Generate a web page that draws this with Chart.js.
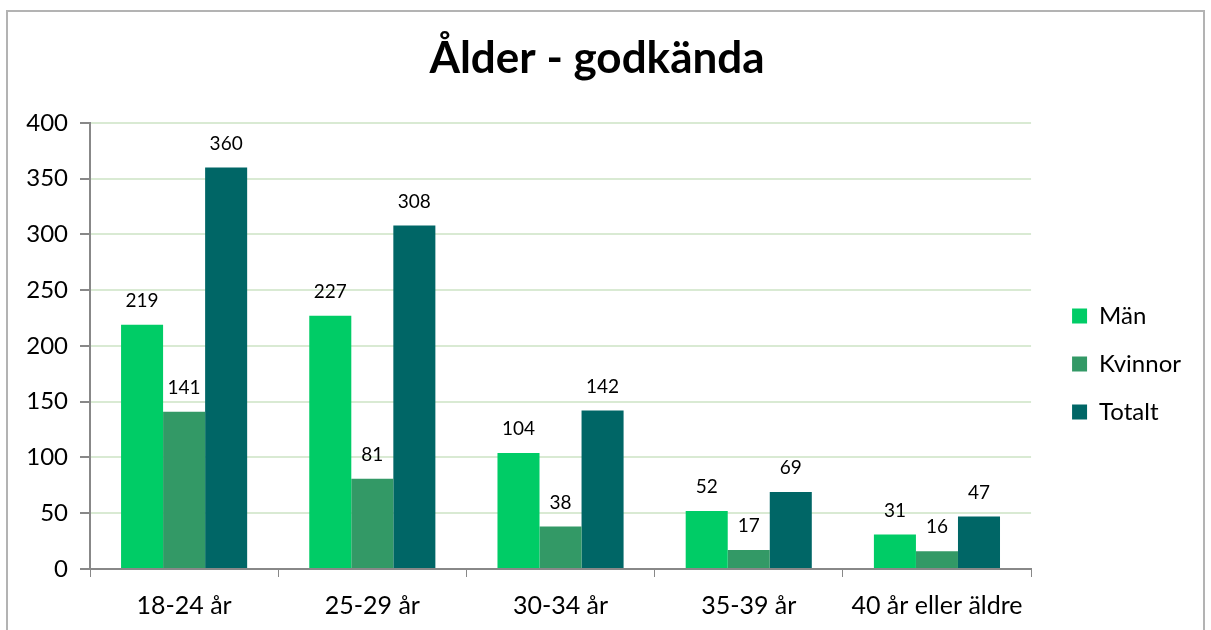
<!DOCTYPE html>
<html>
<head>
<meta charset="utf-8">
<script src="https://cdn.jsdelivr.net/npm/chart.js@4/dist/chart.umd.min.js"></script>
<style>
  html, body { margin: 0; padding: 0; background: #fff; }
  #wrap { width: 1211px; height: 630px; position: relative; }
</style>
</head>
<body>
<div id="wrap"><canvas id="myChart" width="1211" height="630"></canvas></div>
<script>
const categories = ["18-24 år", "25-29 år", "30-34 år", "35-39 år", "40 år eller äldre"];
const man = [219, 227, 104, 52, 31];
const kvinnor = [141, 81, 38, 17, 16];
const totalt = [360, 308, 142, 69, 47];

const FONT = "Lato, 'Noto Sans', sans-serif";

// ram runt diagrammet
const framePlugin = {
  id: "frame",
  beforeDraw(chart) {
    const ctx = chart.ctx;
    ctx.save();
    ctx.fillStyle = "#ffffff";
    ctx.fillRect(0, 0, chart.width, chart.height);
    ctx.strokeStyle = "#b3b3b3";
    ctx.lineWidth = 2;
    ctx.strokeRect(7, 11, 1197, 640);
    ctx.restore();
  }
};

// flytta förklaringen lite åt höger
const legendShift = {
  id: "legendShift",
  afterLayout(chart) {
    const lg = chart.legend;
    if (!lg) return;
    lg.left += 17; lg.right += 17;
  }
};

// värden ovanför staplarna
const valueLabels = {
  id: "valueLabels",
  afterDatasetsDraw(chart) {
    const ctx = chart.ctx;
    ctx.save();
    ctx.font = "19px " + FONT;
    ctx.fillStyle = "#000";
    ctx.textAlign = "center";
    ctx.textBaseline = "middle";
    chart.data.datasets.forEach((ds, i) => {
      chart.getDatasetMeta(i).data.forEach((bar, j) => {
        ctx.fillText(ds.data[j], bar.x, bar.y - 24);
      });
    });
    ctx.restore();
  }
};

const myChart = new Chart(document.getElementById("myChart"), {
  type: "bar",
  data: {
    labels: categories,
    datasets: [
      { label: "Män", data: man, backgroundColor: "#00cc66" },
      { label: "Kvinnor", data: kvinnor, backgroundColor: "#339966" },
      { label: "Totalt", data: totalt, backgroundColor: "#006666" }
    ]
  },
  options: {
    responsive: false,
    animation: false,
    categoryPercentage: 0.67,
    barPercentage: 1,
    layout: { padding: { left: 20, right: 37, top: 26, bottom: 0 } },
    scales: {
      x: {
        afterFit(scale) { scale.height = 61; },
        grid: {
          offset: true,
          drawOnChartArea: false,
          tickLength: 8,
          tickColor: "#888888",
          color: "#888888"
        },
        border: { color: "#888888", width: 2 },
        ticks: { color: "#000", font: { family: FONT, size: 25 }, padding: 14 }
      },
      y: {
        min: 0,
        max: 400,
        afterFit(scale) { scale.width = 70; },
        ticks: { stepSize: 50, color: "#000", font: { family: FONT, size: 24 }, padding: 12 },
        grid: { color: "#d9ead3", lineWidth: 2, tickLength: 10, tickColor: "#888888" },
        border: { color: "#888888", width: 2 }
      }
    },
    plugins: {
      title: {
        display: true,
        text: "Ålder - godkända",
        color: "#000",
        font: { family: FONT, size: 44, weight: "bold" },
        padding: { top: 6, bottom: 38 }
      },
      legend: {
        position: "right",
        title: { display: true, text: " ", font: { size: 10 }, padding: 30 },
        labels: {
          color: "#000",
          boxWidth: 15,
          boxHeight: 15,
          padding: 24,
          font: { family: FONT, size: 24 }
        }
      },
      tooltip: { enabled: false }
    }
  },
  plugins: [framePlugin, legendShift, valueLabels]
});
</script>
</body>
</html>
